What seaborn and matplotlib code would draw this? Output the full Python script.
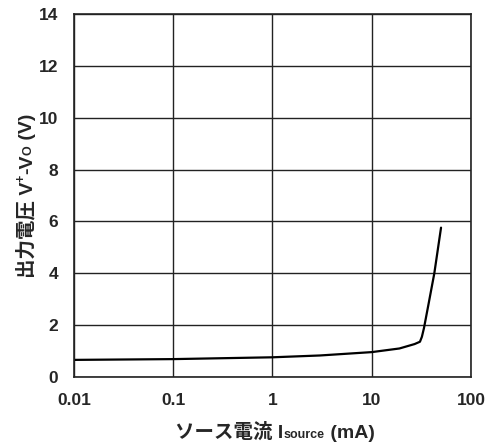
import matplotlib
matplotlib.use("Agg")
import matplotlib.pyplot as plt
import seaborn as sns
import pandas as pd
from matplotlib.ticker import FixedLocator, FixedFormatter

# %% DATA ────────────────────────────────────────────────────────────────
source_ma = [0.01, 0.1, 1, 3, 10, 19, 27, 30.6, 32, 33.6, 37.2, 42.7, 49.9]
out_volt  = [0.66, 0.69, 0.76, 0.83, 0.96, 1.10, 1.27, 1.36, 1.55, 1.89, 2.78, 4.00, 5.76]

x_ticks  = [0.01, 0.1, 1, 10, 100]
x_labels = ["0.01", "0.1", "1", "10", "100"]
y_ticks  = [0, 2, 4, 6, 8, 10, 12, 14]

# %% STYLE ───────────────────────────────────────────────────────────────
sns.set_style("white")
FAMILY = ["Liberation Sans", "Noto Sans CJK JP", "DejaVu Sans"]
plt.rcParams["font.family"] = FAMILY
plt.rcParams["font.weight"] = "bold"

df = pd.DataFrame({"I": source_ma, "V": out_volt})

fig = plt.figure(figsize=(4.89, 4.47), dpi=100)
ax = fig.add_axes([74 / 489, 1 - 377 / 447, 397 / 489, 363 / 447])

sns.lineplot(data=df, x="I", y="V", ax=ax, color="black", lw=1.6, sort=True)

ax.set_xscale("log")
ax.set_xlim(0.01, 100)
ax.set_ylim(0, 14)
ax.xaxis.set_major_locator(FixedLocator(x_ticks))
ax.xaxis.set_major_formatter(FixedFormatter(x_labels))
ax.xaxis.set_minor_locator(FixedLocator([]))
ax.set_yticks(y_ticks)
ax.grid(True, color="#222222", lw=1.0)
for s in ax.spines.values():
    s.set_color("#222222")
    s.set_linewidth(1.2)
ax.tick_params(length=0, pad=11.5, labelsize=12.5)
for t in ax.get_xticklabels() + ax.get_yticklabels():
    t.set_fontweight("bold")
ax.set_xlabel("")
ax.set_ylabel("")


# %% RICH LABELS (pieces with small sub/superscripts) ───────────────────
def rich_text(pieces, cx, base, vertical=False):
    """pieces: (text, size, raise_px). cx = centre along text, base = baseline."""
    r = fig.canvas.get_renderer()
    lens = []
    for s, size, _ in pieces:
        t = fig.text(0, 0, s, fontsize=size, fontweight="bold", family=FAMILY,
                     transform=None)
        bb = t.get_window_extent(r)
        lens.append(bb.width)
        t.remove()
    pos = cx - sum(lens) / 2
    for (s, size, up), L in zip(pieces, lens):
        if vertical:
            fig.text(base - up, pos, s, fontsize=size, fontweight="bold", family=FAMILY,
                     rotation=90, rotation_mode="anchor", ha="left", va="baseline",
                     transform=None)
        else:
            fig.text(pos, base + up, s, fontsize=size, fontweight="bold", family=FAMILY,
                     ha="left", va="baseline", transform=None)
        pos += L


rich_text([("ソース電流 I", 14, 0), ("source", 9, 0), (" (mA)", 14, 0)],
          cx=275, base=447 - 438)
rich_text([("出力電圧 V", 14, 0), ("+", 9, 7), ("-V", 14, 0), ("O", 9, 0), (" (V)", 14, 0)],
          cx=447 - 196, base=32, vertical=True)

fig.savefig("out.png", dpi=100)
